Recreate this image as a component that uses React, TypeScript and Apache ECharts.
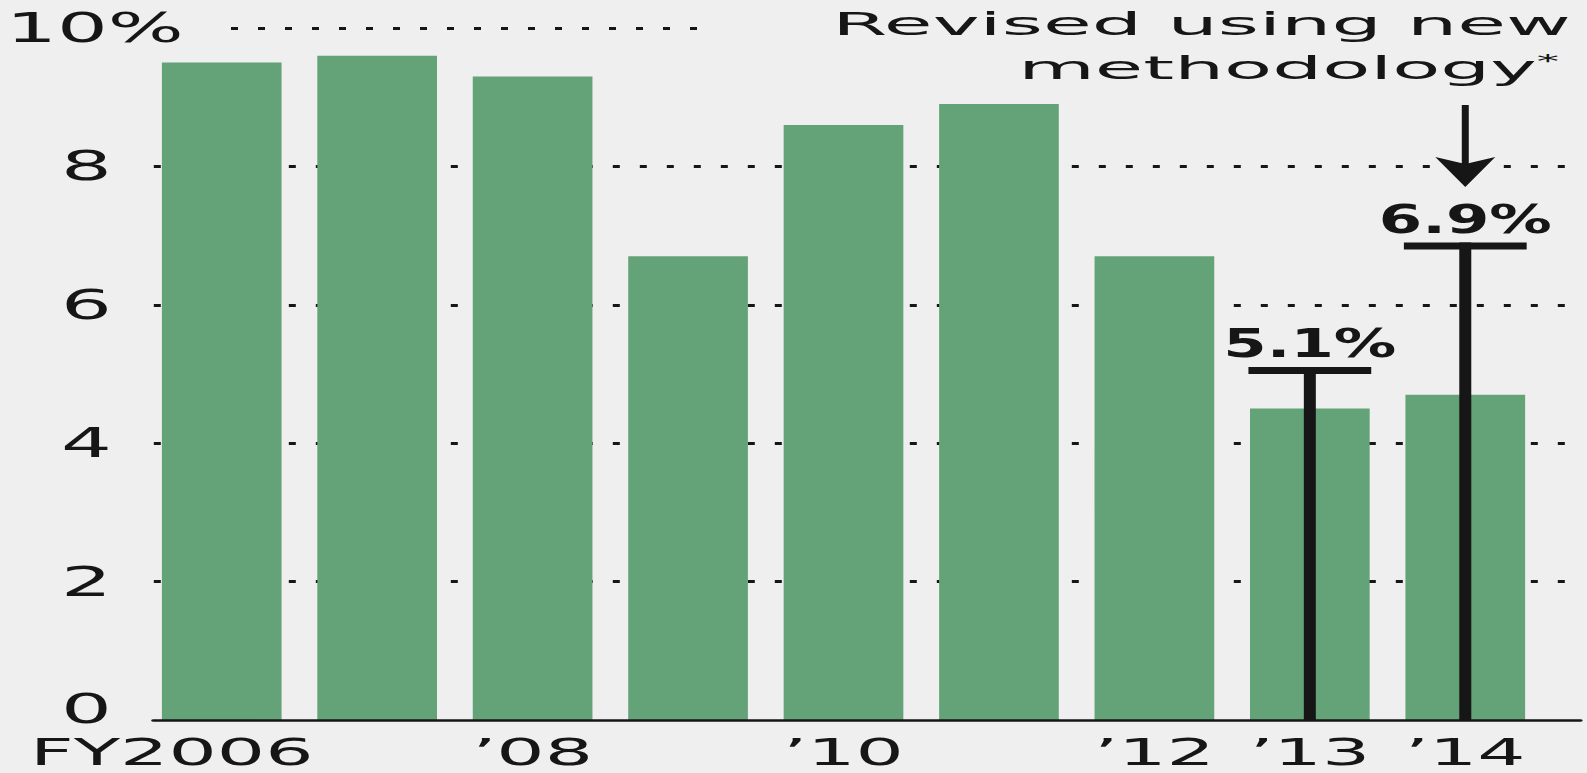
import React, { useEffect, useRef } from 'react';
import * as echarts from 'echarts';

// ---- data ----
const categories = ['FY2006', '2007', '2008', '2009', '2010', '2011', '2012', '2013', '2014'];
const tickLabels = ['FY2006', '', '\u201908', '', '\u201910', '', '\u201912', '\u201913', '\u201914'];
const growth = [9.5, 9.6, 9.3, 6.7, 8.6, 8.9, 6.7, 4.5, 4.7];
const revised: (number | null)[] = [null, null, null, null, null, null, null, 5.1, 6.9];
const yMin = 0;
const yMax = 10;
const yStep = 2;
const noteLine1 = 'Revised using new';
const noteLine2 = 'methodology';

// the reference picture is stretched horizontally; draw narrow and stretch
const S = 2;
const W = 1587 / S;
const H = 773;

export default function App() {
  const ref = useRef<HTMLDivElement>(null);
  useEffect(() => {
    const el = ref.current!;
    const chart = echarts.init(el, null, { renderer: 'svg', width: W, height: H });
    const font = 'DejaVu Sans';
    const ink = '#161616';
    const green = '#64a378';
    const top = 28;
    const bottom = 53;
    const dotted: any = { color: ink, width: 3, type: [3.5, 10], cap: 'butt' };
    const lab = { fontSize: 40, lineHeight: 30, fontFamily: font, color: ink };
    const xlab = { fontSize: 38, lineHeight: 30, fontFamily: font, color: ink };

    const revisedData = revised
      .map((v, i) => (v == null ? null : [i, v]))
      .filter((d) => d != null);

    chart.setOption({
      animation: false,
      backgroundColor: '#efefef',
      textStyle: { fontFamily: font },
      grid: [
        { left: 72, right: 22, top, bottom },
        { left: 71.5, right: 3.5, top, bottom },
        { left: 115.5, right: 441, top, bottom },
      ],
      xAxis: [
        {
          type: 'category',
          gridIndex: 0,
          data: categories,
          axisLine: { show: false },
          axisTick: { show: false },
          axisLabel: {
            interval: 0,
            margin: 17,
            formatter: (_v: string, i: number) =>
              tickLabels[i] === '' ? '' : i === 0 ? `{f|${tickLabels[i]}}` : `{t|${tickLabels[i]}}`,
            rich: {
              f: { ...xlab, padding: [0, 50, 0, 0] },
              t: { ...xlab },
            },
          },
        },
        {
          type: 'value',
          gridIndex: 1,
          min: 0,
          max: 1,
          z: 5,
          axisLine: { show: true, onZero: false, lineStyle: { color: ink, width: 2.7 } },
          axisTick: { show: false },
          axisLabel: { show: false },
          splitLine: { show: false },
        },
        { type: 'value', gridIndex: 2, min: 0, max: 1, show: false },
      ],
      yAxis: [
        { type: 'value', gridIndex: 0, min: yMin, max: yMax, interval: yStep, show: false },
        {
          type: 'value',
          gridIndex: 1,
          min: yMin,
          max: yMax,
          interval: yStep,
          axisLine: { show: false },
          axisTick: { show: false },
          splitLine: { show: true, showMinLine: false, showMaxLine: false, lineStyle: dotted },
          axisLabel: {
            margin: -15,
            formatter: (v: number) =>
              v === yMax ? `{p|${v}%}` : v === yMin ? `{z|${v}}` : `{d|${v}}`,
            rich: {
              p: { ...lab },
              d: { ...lab, padding: [0, 36, 0, 0] },
              z: { ...lab, padding: [0, 36, 22, 0] },
            },
          },
        },
        {
          type: 'value',
          gridIndex: 2,
          min: yMin,
          max: yMax,
          interval: yMax,
          axisLine: { show: false },
          axisTick: { show: false },
          axisLabel: { show: false },
          splitLine: { show: true, showMinLine: false, lineStyle: dotted },
        },
      ],
      series: [
        {
          type: 'bar',
          xAxisIndex: 0,
          yAxisIndex: 0,
          data: growth,
          barCategoryGap: '23%',
          itemStyle: { color: green },
        },
        {
          type: 'custom',
          xAxisIndex: 0,
          yAxisIndex: 0,
          data: revisedData,
          z: 4,
          renderItem: (_params: any, api: any) => {
            const idx = api.value(0);
            const val = api.value(1);
            const p = api.coord([idx, val]);
            const b = api.coord([idx, 0]);
            const band = api.size([1, 0])[0];
            const capW = band * 0.79;
            const lw = 6;
            return {
              type: 'group',
              children: [
                {
                  type: 'rect',
                  shape: { x: p[0] - lw / 2, y: p[1], width: lw, height: b[1] - p[1] },
                  style: { fill: ink },
                },
                {
                  type: 'rect',
                  shape: { x: p[0] - capW / 2, y: p[1], width: capW, height: 7 },
                  style: { fill: ink },
                },
                {
                  type: 'text',
                  x: p[0],
                  y: p[1] - 4,
                  scaleX: 0.8,
                  style: {
                    text: val.toFixed(1) + '%',
                    x: 0,
                    y: 0,
                    align: 'center',
                    verticalAlign: 'bottom',
                    fontSize: 39,
                    fontWeight: 'bold',
                    fontFamily: font,
                    fill: ink,
                  },
                },
              ],
            };
          },
        },
      ],
    });

    const cx = chart.convertToPixel({ xAxisIndex: 0 }, categories.length - 1) as number;
    chart.setOption({
      graphic: [
        {
          type: 'text',
          x: 785.5,
          y: 24,
          scaleX: 1.24,
          style: {
            text: noteLine1,
            align: 'right',
            verticalAlign: 'middle',
            fontSize: 32,
            fontFamily: font,
            fill: ink,
          },
        },
        {
          type: 'text',
          x: 779.5,
          y: 68,
          scaleX: 1.23,
          style: {
            text: noteLine2 + '{a|*}',
            align: 'right',
            verticalAlign: 'middle',
            fontSize: 32,
            fontFamily: font,
            fill: ink,
            rich: { a: { fontSize: 18, fontFamily: font, fill: ink, verticalAlign: 'top' } },
          },
        },
        {
          type: 'rect',
          shape: { x: cx - 1.75, y: 105, width: 3.5, height: 60 },
          style: { fill: ink },
        },
        {
          type: 'polygon',
          shape: {
            points: [
              [cx - 15, 157],
              [cx, 164],
              [cx + 15, 157],
              [cx, 187],
            ],
          },
          style: { fill: ink },
        },
      ],
    });

    return () => chart.dispose();
  }, []);

  return (
    <div
      style={{
        position: 'fixed',
        left: 0,
        top: 0,
        width: 1587,
        height: H,
        overflow: 'hidden',
        background: '#efefef',
      }}
    >
      <div
        ref={ref}
        style={{
          width: W,
          height: H,
          transform: `scaleX(${S})`,
          transformOrigin: '0 0',
        }}
      />
    </div>
  );
}
